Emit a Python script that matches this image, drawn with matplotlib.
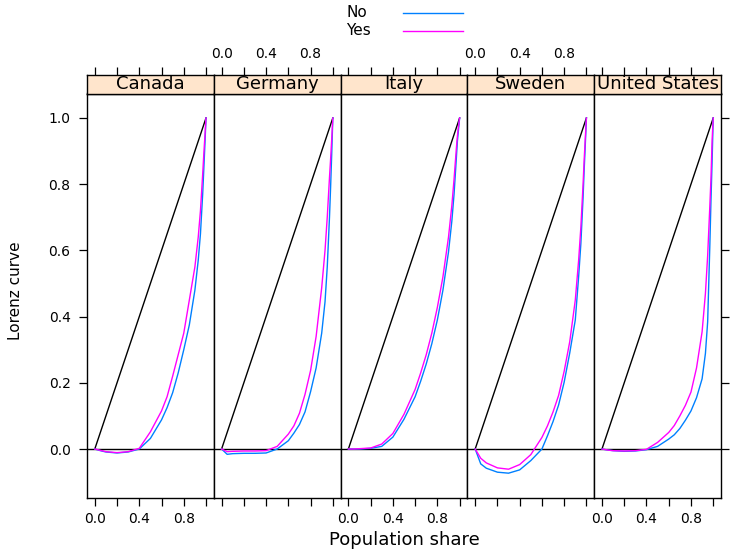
import matplotlib.pyplot as plt
from matplotlib.lines import Line2D

# ==========================================
# LORENZ CURVE DATA
# ==========================================

share = [0, 0.05, 0.1, 0.2, 0.3, 0.4, 0.5, 0.6, 0.65, 0.7,
         0.75, 0.8, 0.85, 0.9, 0.93, 0.95, 0.97, 0.98, 0.99, 1.0]

canada_no = [0, -0.005, -0.009, -0.012, -0.009, 0.0, 0.032, 0.088, 0.125, 0.17,
             0.23, 0.30, 0.375, 0.48, 0.57, 0.65, 0.77, 0.845, 0.92, 1.0]
canada_yes = [0, -0.004, -0.008, -0.011, -0.008, 0.002, 0.052, 0.115, 0.158, 0.22,
              0.285, 0.35, 0.45, 0.55, 0.64, 0.72, 0.83, 0.89, 0.945, 1.0]

germany_no = [0, -0.016, -0.014, -0.013, -0.013, -0.012, 0.0, 0.025, 0.048, 0.074,
              0.112, 0.173, 0.245, 0.35, 0.445, 0.55, 0.70, 0.79, 0.89, 1.0]
germany_yes = [0, -0.008, -0.007, -0.006, -0.006, -0.005, 0.008, 0.045, 0.07, 0.108,
               0.165, 0.237, 0.34, 0.487, 0.60, 0.70, 0.82, 0.875, 0.935, 1.0]

italy_no = [0, 0, 0, 0.002, 0.008, 0.036, 0.09, 0.158, 0.205, 0.257,
            0.318, 0.39, 0.48, 0.595, 0.688, 0.77, 0.875, 0.93, 0.965, 1.0]
italy_yes = [0, 0, 0.001, 0.003, 0.015, 0.047, 0.105, 0.18, 0.23, 0.285,
             0.35, 0.428, 0.52, 0.64, 0.735, 0.815, 0.905, 0.945, 0.975, 1.0]

sweden_no = [0, -0.045, -0.058, -0.070, -0.073, -0.063, -0.035, 0.0, 0.04, 0.083,
             0.133, 0.202, 0.29, 0.39, 0.52, 0.62, 0.76, 0.845, 0.92, 1.0]
sweden_yes = [0, -0.028, -0.042, -0.057, -0.061, -0.047, -0.017, 0.035, 0.07, 0.112,
              0.162, 0.235, 0.324, 0.45, 0.57, 0.67, 0.80, 0.875, 0.94, 1.0]

us_no = [0, -0.003, -0.005, -0.007, -0.006, -0.002, 0.008, 0.03, 0.043, 0.062,
         0.087, 0.115, 0.155, 0.212, 0.289, 0.384, 0.62, 0.753, 0.87, 1.0]
us_yes = [0, -0.003, -0.005, -0.006, -0.005, -0.001, 0.02, 0.05, 0.071, 0.1,
          0.132, 0.172, 0.245, 0.354, 0.47, 0.584, 0.737, 0.82, 0.933, 1.0]

countries = ["Canada", "Germany", "Italy", "Sweden", "United States"]
no_curves = [canada_no, germany_no, italy_no, sweden_no, us_no]
yes_curves = [canada_yes, germany_yes, italy_yes, sweden_yes, us_yes]

xticks = [0, 0.2, 0.4, 0.6, 0.8, 1.0]
xticklabels = ["0.0", "", "0.4", "", "0.8", ""]
yticks = [0, 0.2, 0.4, 0.6, 0.8, 1.0]
yticklabels = ["0.0", "0.2", "0.4", "0.6", "0.8", "1.0"]

# ==========================================
# FIGURE / PANEL LAYOUT
# ==========================================

W, H = 730, 550
fig = plt.figure(figsize=(W / 100, H / 100), dpi=100)
fig.patch.set_facecolor("white")

blue = "#0080ff"
magenta = "#ff00ff"
strip_col = "#ffe5cc"

left_px, right_px = 87, 721
top_px, bottom_px = 93.5, 498
strip_top_px = 74.5
pw = (right_px - left_px) / 5

tick_kw = dict(direction="out", length=5.8, width=0.9, colors="black",
               labelsize=10, pad=4)

for i, name in enumerate(countries):
    x0 = left_px + i * pw
    ax = fig.add_axes([x0 / W, 1 - bottom_px / H, pw / W, (bottom_px - top_px) / H])

    ax.plot([0, 1], [0, 1], color="black", lw=1.0)
    ax.axhline(0, color="black", lw=1.0)
    ax.plot(share, no_curves[i], color=blue, lw=1.0)
    ax.plot(share, yes_curves[i], color=magenta, lw=1.0)

    ax.set_xlim(-0.07, 1.07)
    ax.set_ylim(-0.148, 1.074)
    for sp in ax.spines.values():
        sp.set_linewidth(1.0)

    ax.set_xticks(xticks)
    if i % 2 == 0:
        ax.set_xticklabels(xticklabels)
    else:
        ax.set_xticklabels([""] * len(xticks))
    ax.set_yticks(yticks)
    ax.tick_params(axis="x", bottom=True, top=False, **tick_kw)
    ax.tick_params(axis="y", left=(i == 0), right=(i == 4),
                   labelleft=(i == 0), labelright=False, **tick_kw)
    if i == 0:
        ax.set_yticklabels(yticklabels)
        ax.tick_params(axis="y", pad=6)

    # strip with country name, top axis ticks above it
    sx = fig.add_axes([x0 / W, 1 - top_px / H, pw / W, (top_px - strip_top_px) / H])
    sx.set_facecolor(strip_col)
    sx.set_xlim(-0.07, 1.07)
    sx.set_ylim(0, 1)
    sx.set_yticks([])
    sx.set_xticks(xticks)
    if i % 2 == 1:
        sx.set_xticklabels(xticklabels)
    else:
        sx.set_xticklabels([""] * len(xticks))
    sx.tick_params(axis="x", bottom=False, top=True, labelbottom=False,
                   labeltop=True, **tick_kw)
    for sp in sx.spines.values():
        sp.set_linewidth(1.0)
    sx.text(0.5, 0.5, name, transform=sx.transAxes, ha="center", va="center",
            fontsize=13)

# ==========================================
# AXIS LABELS AND LEGEND
# ==========================================

fig.text(404 / W, 1 - 540 / H, "Population share", ha="center", va="center",
         fontsize=13)
fig.text(16 / W, 1 - 291 / H, "Lorenz curve", ha="center", va="center",
         rotation=90, fontsize=11)

for label, col, ypx in [("No", blue, 12.5), ("Yes", magenta, 30.5)]:
    fig.text(346 / W, 1 - ypx / H, label, ha="left", va="center", fontsize=11)
    fig.add_artist(Line2D([403 / W, 463 / W], [1 - ypx / H, 1 - ypx / H],
                          color=col, lw=1.0, transform=fig.transFigure))

fig.savefig("out.png", dpi=100)
